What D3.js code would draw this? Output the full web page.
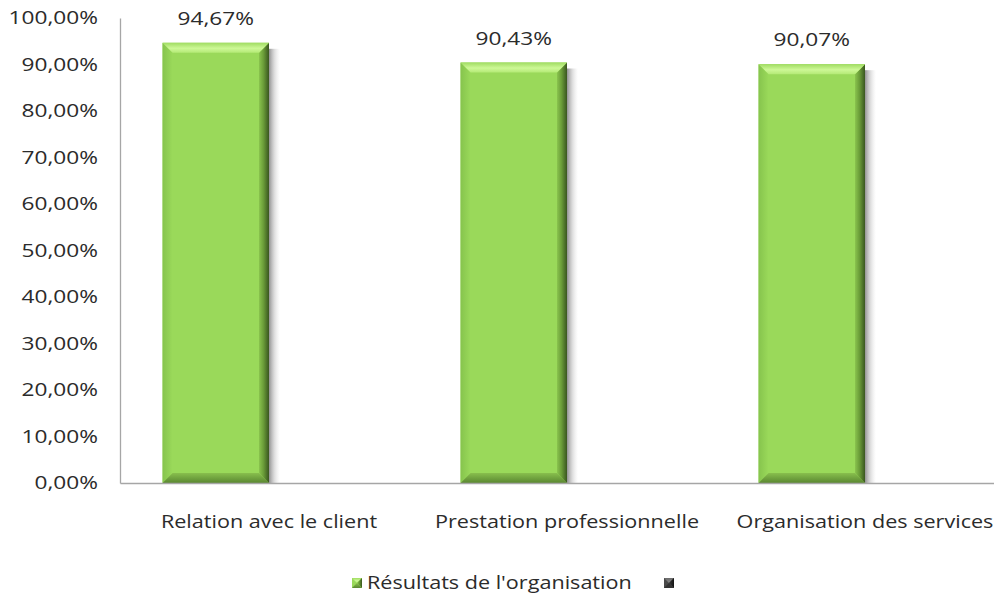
<!DOCTYPE html>
<html>
<head>
<meta charset="utf-8">
<script src="https://cdn.jsdelivr.net/npm/d3@7"></script>
<style>
  html, body { margin: 0; padding: 0; background: #fff; }
  svg { display: block; font-family: "Open Sans", sans-serif; }
</style>
</head>
<body>
<svg id="chart" width="994" height="597"></svg>
<script>
// Survey categories and scores (percent)
const categories = ["Relation avec le client", "Prestation professionnelle", "Organisation des services"];
const seriesNames = ["Résultats de l'organisation", ""];
const results = [94.67, 90.43, 90.07];
const secondSeries = [null, null, null];
const yTicks = [0, 10, 20, 30, 40, 50, 60, 70, 80, 90, 100];

const svg = d3.select("#chart");
const W = 994, H = 597;
const margin = { left: 120, top: 18, bottom: 114 };
const plotW = 894;
const y0 = H - margin.bottom;
const FS = 18;        // font size
const SXN = 1.26;     // horizontal stretch for numbers
const SXT = 1.2;      // horizontal stretch for words
const txtColor = "#2b2b2b";

const fmt = v => d3.format(".2f")(v).replace(".", ",") + "%";

const x = d3.scaleBand().domain(categories).range([margin.left, margin.left + plotW]);
const xs = d3.scaleBand().domain(seriesNames.map((d, i) => i)).range([0, x.bandwidth()]).paddingOuter(0.4);
const y = d3.scaleLinear().domain([0, 100]).range([y0, margin.top]);

// place text at (tx, ty) and widen its glyphs horizontally
function stretchText(sel, sx) {
  sel.each(function () {
    const t = d3.select(this);
    const tx = +t.attr("x") || 0;
    const ty = +t.attr("y") || 0;
    t.attr("x", 0).attr("y", 0).attr("transform", `translate(${tx},${ty}) scale(${sx},1)`);
  });
}

const defs = svg.append("defs");
function grad(id, x2, y2, stops) {
  const g = defs.append("linearGradient").attr("id", id).attr("x1", 0).attr("y1", 0).attr("x2", x2).attr("y2", y2);
  stops.forEach(([o, c, op]) => g.append("stop").attr("offset", o).attr("stop-color", c).attr("stop-opacity", op == null ? 1 : op));
}
grad("shadow", 1, 0, [[0, "#6e6e6e", 0.75], [0.5, "#a0a0a0", 0.35], [1, "#c8c8c8", 0]]);
grad("gTop", 0, 1, [[0, "#a0dc62"], [0.55, "#cdf896"], [1, "#b4ea76"]]);
grad("gLeft", 1, 0, [[0, "#86c44d"], [1, "#9ad95a"]]);
grad("gRight", 1, 0, [[0, "#8ac44e"], [0.45, "#6a9c38"], [1, "#39561f"]]);
grad("gBottom", 0, 1, [[0, "#88bf4d"], [1, "#5a8731"]]);
grad("dTop", 0, 1, [[0, "#6a6a6a"], [1, "#8a8a8a"]]);
grad("dRight", 1, 0, [[0, "#3a3a3a"], [1, "#111"]]);

const green = { main: "#9ad95a", top: "url(#gTop)", left: "url(#gLeft)", right: "url(#gRight)", bottom: "url(#gBottom)" };
const dark = { main: "#4a4a4a", top: "url(#dTop)", left: "#555", right: "url(#dRight)", bottom: "#333" };

// Axes
const yAxis = d3.axisLeft(y).tickValues(yTicks).tickSize(0).tickPadding(22 / SXN).tickFormat(fmt);
const gy = svg.append("g").attr("transform", `translate(${margin.left},0)`).call(yAxis);
gy.select(".domain").attr("stroke", "#a6a6a6").attr("stroke-width", 1.3);
gy.selectAll("text").attr("font-size", FS).attr("fill", txtColor).attr("font-family", "'Open Sans', sans-serif")
  .attr("transform", `scale(${SXN},1)`);

const xAxis = d3.axisBottom(x).tickSize(0).tickPadding(32);
const gx = svg.append("g").attr("transform", `translate(0,${y0})`).call(xAxis);
gx.select(".domain").attr("stroke", "#a6a6a6").attr("stroke-width", 1.3);
gx.selectAll(".tick").each(function () {
  // stretch each category label around its own tick centre
  d3.select(this).select("text").attr("font-size", FS).attr("fill", txtColor)
    .attr("font-family", "'Open Sans', sans-serif").attr("transform", `scale(${SXT},1)`);
});

// Bevelled bar
function bevelBar(g, bx, by, bw, bh, c) {
  const b = 10;
  g.append("rect").attr("x", bx + bw).attr("y", by + 6).attr("width", 11).attr("height", bh - 6).attr("fill", "url(#shadow)");
  g.append("rect").attr("x", bx).attr("y", by).attr("width", bw).attr("height", bh).attr("fill", c.main);
  const pts = (a) => a.map(p => p.join(",")).join(" ");
  g.append("polygon").attr("points", pts([[bx, by], [bx + b, by + b], [bx + b, by + bh - b], [bx, by + bh]])).attr("fill", c.left);
  g.append("polygon").attr("points", pts([[bx, by + bh], [bx + b, by + bh - b], [bx + bw - b, by + bh - b], [bx + bw, by + bh]])).attr("fill", c.bottom);
  g.append("polygon").attr("points", pts([[bx + bw, by], [bx + bw, by + bh], [bx + bw - b, by + bh - b], [bx + bw - b, by + b]])).attr("fill", c.right);
  g.append("polygon").attr("points", pts([[bx, by], [bx + bw, by], [bx + bw - b, by + b], [bx + b, by + b]])).attr("fill", c.top);
}

const bars = svg.append("g");
const labels = svg.append("g");
categories.forEach((cat, i) => {
  const v = results[i];
  const bx = x(cat) + xs(0);
  bevelBar(bars, bx, y(v), xs.bandwidth(), y0 - y(v), green);
  labels.append("text").attr("x", bx + xs.bandwidth() / 2).attr("y", y(v) - 18)
    .attr("text-anchor", "middle").attr("font-size", FS).attr("fill", txtColor).text(fmt(v));
  if (secondSeries[i] != null) {
    const bx2 = x(cat) + xs(1);
    bevelBar(bars, bx2, y(secondSeries[i]), xs.bandwidth(), y0 - y(secondSeries[i]), dark);
  }
});
labels.selectAll("text").call(stretchText, SXN);
// keep axis line on top of bar bottoms
gx.raise();

// Legend
const lg = svg.append("g").attr("transform", "translate(352,583)");
function legendMark(g, lx, c) {
  g.append("rect").attr("x", lx).attr("y", -5).attr("width", 10).attr("height", 10).attr("fill", c.main);
  g.append("polygon").attr("points", `${lx},-5 ${lx + 10},-5 ${lx + 5},0`).attr("fill", c.top);
  g.append("polygon").attr("points", `${lx + 10},-5 ${lx + 10},5 ${lx + 5},0`).attr("fill", c.right);
  g.append("polygon").attr("points", `${lx},5 ${lx + 10},5 ${lx + 5},0`).attr("fill", c.bottom);
}
legendMark(lg, 0, green);
lg.append("text").attr("x", 15).attr("y", 0).attr("dy", "0.35em").attr("font-size", FS).attr("fill", txtColor)
  .text(seriesNames[0]).call(stretchText, SXT);
legendMark(lg, 312, dark);
</script>
</body>
</html>
